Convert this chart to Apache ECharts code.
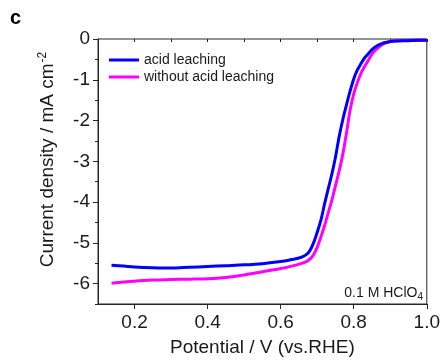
<!DOCTYPE html>
<html>
<head>
<meta charset="utf-8">
<script src="https://cdn.jsdelivr.net/npm/echarts@6/dist/echarts.min.js"></script>
<style>
  html, body { margin: 0; padding: 0; background: #fff; }
  #chart { width: 443px; height: 362px; }
</style>
</head>
<body>
<div id="chart"></div>
<script>
// Linear sweep voltammetry (ORR) in 0.1 M HClO4
const potential = [0.137, 0.17, 0.2, 0.25, 0.3, 0.35, 0.4, 0.45, 0.5, 0.55, 0.6, 0.63, 0.655,
  0.67, 0.68, 0.69, 0.70, 0.71, 0.72, 0.73, 0.74, 0.75, 0.76, 0.77, 0.78, 0.79, 0.80,
  0.81, 0.82, 0.83, 0.84, 0.85, 0.86, 0.87, 0.88, 0.89, 0.90, 0.92, 0.95, 0.98, 1.0];

const acidLeaching = [-5.55, -5.57, -5.59, -5.61, -5.62, -5.60, -5.58, -5.56, -5.54, -5.51, -5.46, -5.41, -5.36,
  -5.29, -5.19, -5.00, -4.74, -4.45, -4.05, -3.68, -3.32, -2.90, -2.40, -1.98, -1.62, -1.28, -0.98,
  -0.76, -0.60, -0.46, -0.36, -0.26, -0.19, -0.14, -0.10, -0.08, -0.06, -0.05, -0.04, -0.03, -0.03];

const withoutAcidLeaching = [-5.99, -5.96, -5.94, -5.91, -5.90, -5.89, -5.88, -5.85, -5.79, -5.71, -5.63, -5.57, -5.51,
  -5.46, -5.40, -5.29, -5.11, -4.86, -4.58, -4.27, -3.96, -3.60, -3.24, -2.83, -2.32, -1.75, -1.35,
  -1.07, -0.84, -0.67, -0.52, -0.37, -0.27, -0.19, -0.13, -0.09, -0.06, -0.04, -0.03, -0.03, -0.03];

const seriesNames = ['acid leaching', 'without acid leaching'];
const xMajorTicks = [0.2, 0.4, 0.6, 0.8, 1.0];
const yMajorTicks = [0, -1, -2, -3, -4, -5, -6];

const axisColor = '#262626';
const textColor = '#1a1a1a';
const fontFamily = 'Liberation Sans, Arial, sans-serif';

const chart = echarts.init(document.getElementById('chart'), null, { renderer: 'canvas' });

const pairs = (ys) => potential.map((x, i) => [x, ys[i]]);

chart.setOption({
  animation: false,
  backgroundColor: '#fff',
  grid: {
    left: 98, right: 15, top: 39, bottom: 57,
    show: true, borderColor: axisColor, borderWidth: 1, backgroundColor: 'transparent'
  },
  legend: {
    orient: 'vertical',
    left: 104, top: 48,
    icon: 'rect',
    itemWidth: 30, itemHeight: 3, itemGap: 3,
    textStyle: { fontFamily, fontSize: 14, color: textColor },
    data: seriesNames
  },
  xAxis: [{
    type: 'value', min: 0.1, max: 1.0,
    name: 'Potential / V (vs.RHE)', nameLocation: 'middle', nameGap: 34,
    nameTextStyle: { fontFamily, fontSize: 19, color: textColor },
    axisLine: { show: true, onZero: false, lineStyle: { color: axisColor, width: 1 } },
    axisTick: { show: true, inside: false, length: 5, customValues: xMajorTicks, lineStyle: { color: axisColor } },
    axisLabel: { show: true, customValues: xMajorTicks, margin: 9, fontFamily, fontSize: 19, color: textColor,
      formatter: v => v.toFixed(1) },
    splitLine: { show: false }
  }, {
    // minor ticks every 0.1
    type: 'value', min: 0.1, max: 1.0, interval: 0.1, position: 'bottom',
    axisLine: { show: false },
    axisTick: { show: true, length: 3, lineStyle: { color: axisColor } },
    axisLabel: { show: false }, splitLine: { show: false }
  }],
  yAxis: [{
    type: 'value', min: -6.5, max: 0,
    name: '{a|Current density / mA cm}{s|-2}', nameLocation: 'middle', nameGap: 39, nameRotate: 90,
    nameTextStyle: {
      fontFamily, color: textColor, padding: [0, 0, 0, 24],
      rich: {
        a: { fontFamily, fontSize: 19, color: textColor, lineHeight: 22 },
        s: { fontFamily, fontSize: 12, color: textColor, lineHeight: 22, padding: [0, 0, 10, 1] }
      }
    },
    axisLine: { show: true, onZero: false, lineStyle: { color: axisColor, width: 1 } },
    axisTick: { show: true, inside: false, length: 5, customValues: yMajorTicks, lineStyle: { color: axisColor } },
    axisLabel: { show: true, customValues: yMajorTicks, margin: 8, fontFamily, fontSize: 19, color: textColor,
      formatter: v => String(Math.round(v)) },
    splitLine: { show: false }
  }, {
    // minor ticks every 0.5
    type: 'value', min: -6.5, max: 0, interval: 0.5, position: 'left',
    axisLine: { show: false },
    axisTick: { show: true, length: 3, lineStyle: { color: axisColor } },
    axisLabel: { show: false }, splitLine: { show: false }
  }],
  series: [{
    name: seriesNames[0], type: 'line', data: pairs(acidLeaching),
    xAxisIndex: 0, yAxisIndex: 0,
    showSymbol: false, symbol: 'none', smooth: 0.3,
    color: '#0000ff', lineStyle: { color: '#0000ff', width: 3 }, z: 3
  }, {
    name: seriesNames[1], type: 'line', data: pairs(withoutAcidLeaching),
    xAxisIndex: 0, yAxisIndex: 0,
    showSymbol: false, symbol: 'none', smooth: 0.3,
    color: '#ff00ff', lineStyle: { color: '#ff00ff', width: 3 }, z: 2
  }],
  graphic: [{
    type: 'text', left: 10, top: 8,
    style: { text: 'c', fontFamily, fontSize: 20, fontWeight: 'bold', fill: '#000' }
  }, {
    type: 'text', right: 20, top: 284,
    style: {
      text: '{a|0.1 M HClO}{b|4}',
      rich: {
        a: { fontFamily, fontSize: 14, fill: textColor, lineHeight: 16 },
        b: { fontFamily, fontSize: 10, fill: textColor, lineHeight: 16, padding: [8, 0, 0, 0] }
      }
    }
  }]
});
</script>
</body>
</html>
